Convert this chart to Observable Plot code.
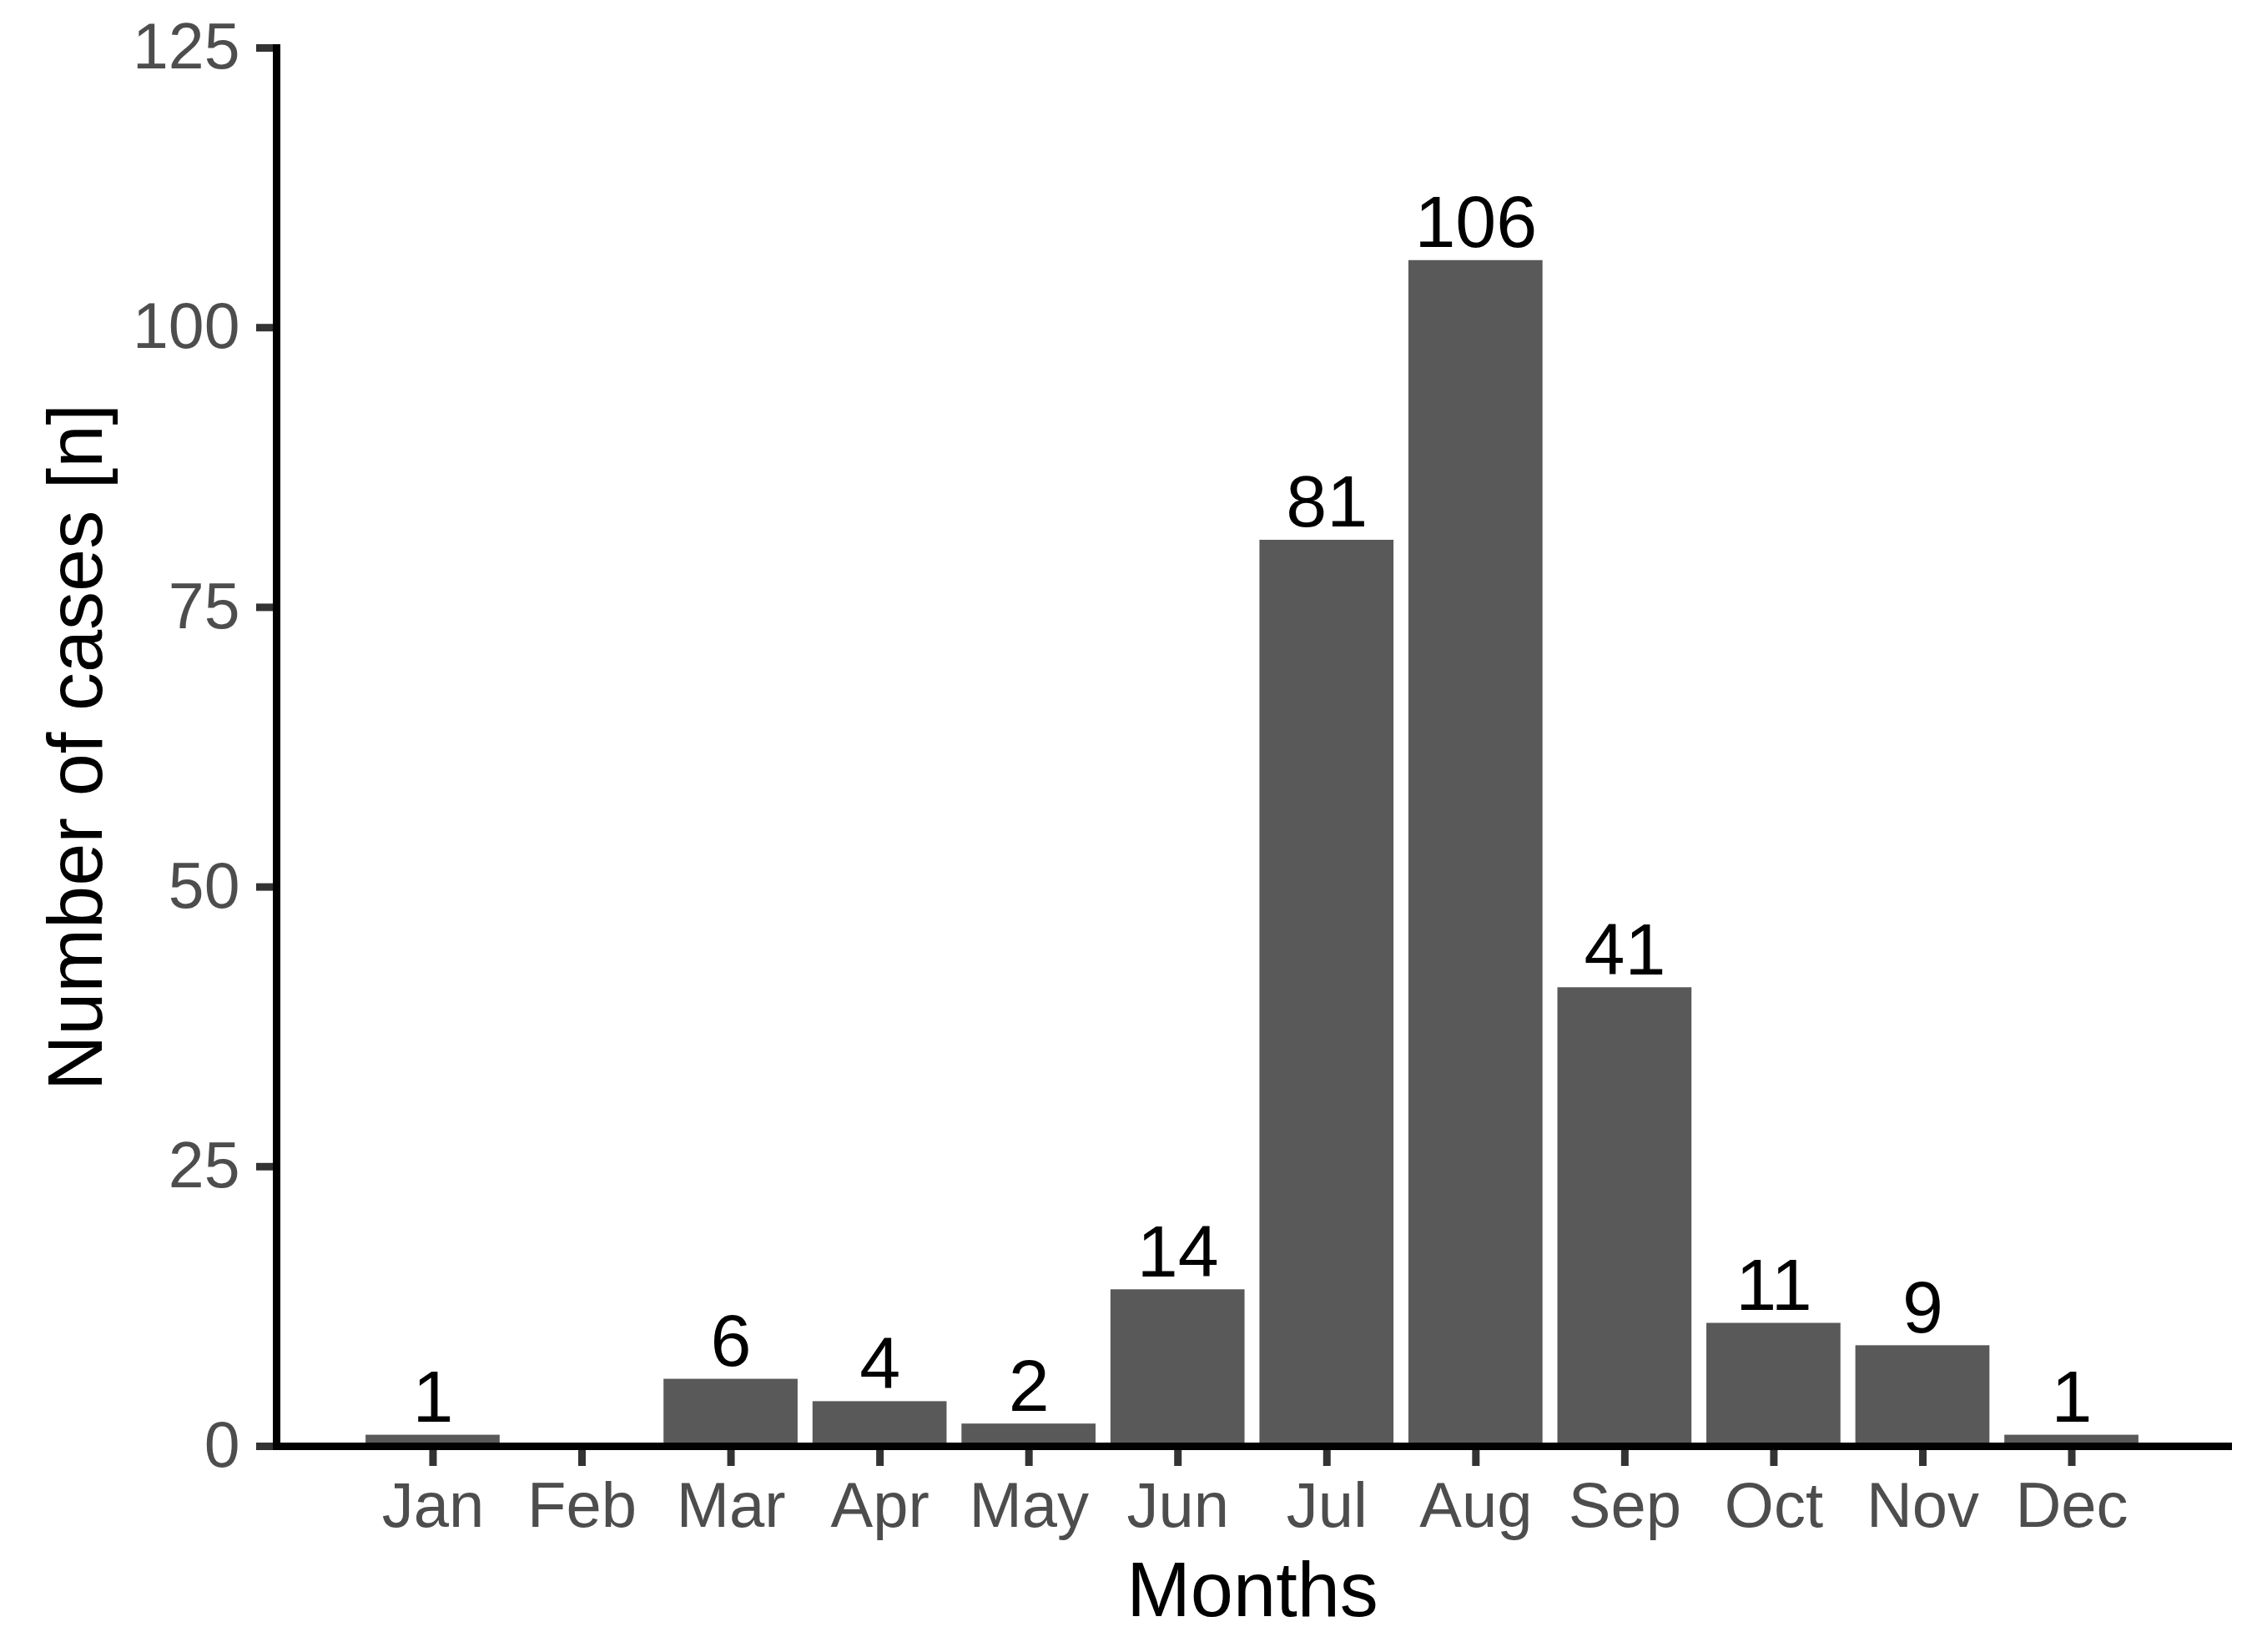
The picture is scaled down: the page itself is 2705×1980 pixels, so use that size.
<!DOCTYPE html>
<html>
<head>
<meta charset="utf-8">
<script src="https://cdn.jsdelivr.net/npm/d3@7"></script>
<script src="https://cdn.jsdelivr.net/npm/@observablehq/plot@0.6"></script>
<style>
  html, body { margin: 0; padding: 0; background: #ffffff; }
  #chart svg { display: block; }
</style>
</head>
<body>
<div id="chart"></div>
<script>
// Data
const months = ["Jan", "Feb", "Mar", "Apr", "May", "Jun", "Jul", "Aug", "Sep", "Oct", "Nov", "Dec"];
const cases = [1, 0, 6, 4, 2, 14, 81, 106, 41, 11, 9, 1];
const yTicks = [0, 25, 50, 75, 100, 125];
const xTitle = "Months";
const yTitle = "Number of cases [n]";

const data = months.map((m, i) => ({month: m, n: cases[i]}));

const chart = Plot.plot({
  width: 2705,
  height: 1980,
  marginTop: 57,
  marginBottom: 247,
  marginLeft: 331,
  marginRight: 35,
  style: {fontFamily: "'Liberation Sans', Arial, sans-serif", background: "#ffffff"},
  x: {domain: months, paddingInner: 0.1, paddingOuter: 0.6, round: false, label: null},
  y: {domain: [0, 125], label: null},
  marks: [
    Plot.barY(data, {x: "month", y: "n", fill: "#595959"}),
    Plot.text(data.filter(d => d.n > 0), {
      x: "month", y: "n", text: d => String(d.n),
      dy: -16, lineAnchor: "bottom", fontSize: 88, fill: "#000000"
    }),
    Plot.axisX({
      tickSize: 24, tickPadding: 19, strokeWidth: 9, stroke: "#333333",
      fill: "#4D4D4D", fontSize: 76, label: null
    }),
    Plot.axisY({
      ticks: yTicks, tickSize: 24, tickPadding: 20, strokeWidth: 9, stroke: "#333333",
      fill: "#4D4D4D", fontSize: 77, label: null, tickFormat: d => String(d)
    }),
    Plot.frame({anchor: "left", stroke: "#000000", strokeWidth: 9}),
    Plot.frame({anchor: "bottom", stroke: "#000000", strokeWidth: 9}),
    Plot.text([xTitle], {
      frameAnchor: "bottom", dy: 203, lineAnchor: "bottom", textAnchor: "middle",
      fontSize: 92, fill: "#000000", text: d => d
    }),
    Plot.text([yTitle], {
      frameAnchor: "left", dx: -275, rotate: -90, lineAnchor: "top", textAnchor: "middle",
      fontSize: 92, fill: "#000000", text: d => d
    })
  ]
});

document.getElementById("chart").appendChild(chart);
</script>
</body>
</html>
